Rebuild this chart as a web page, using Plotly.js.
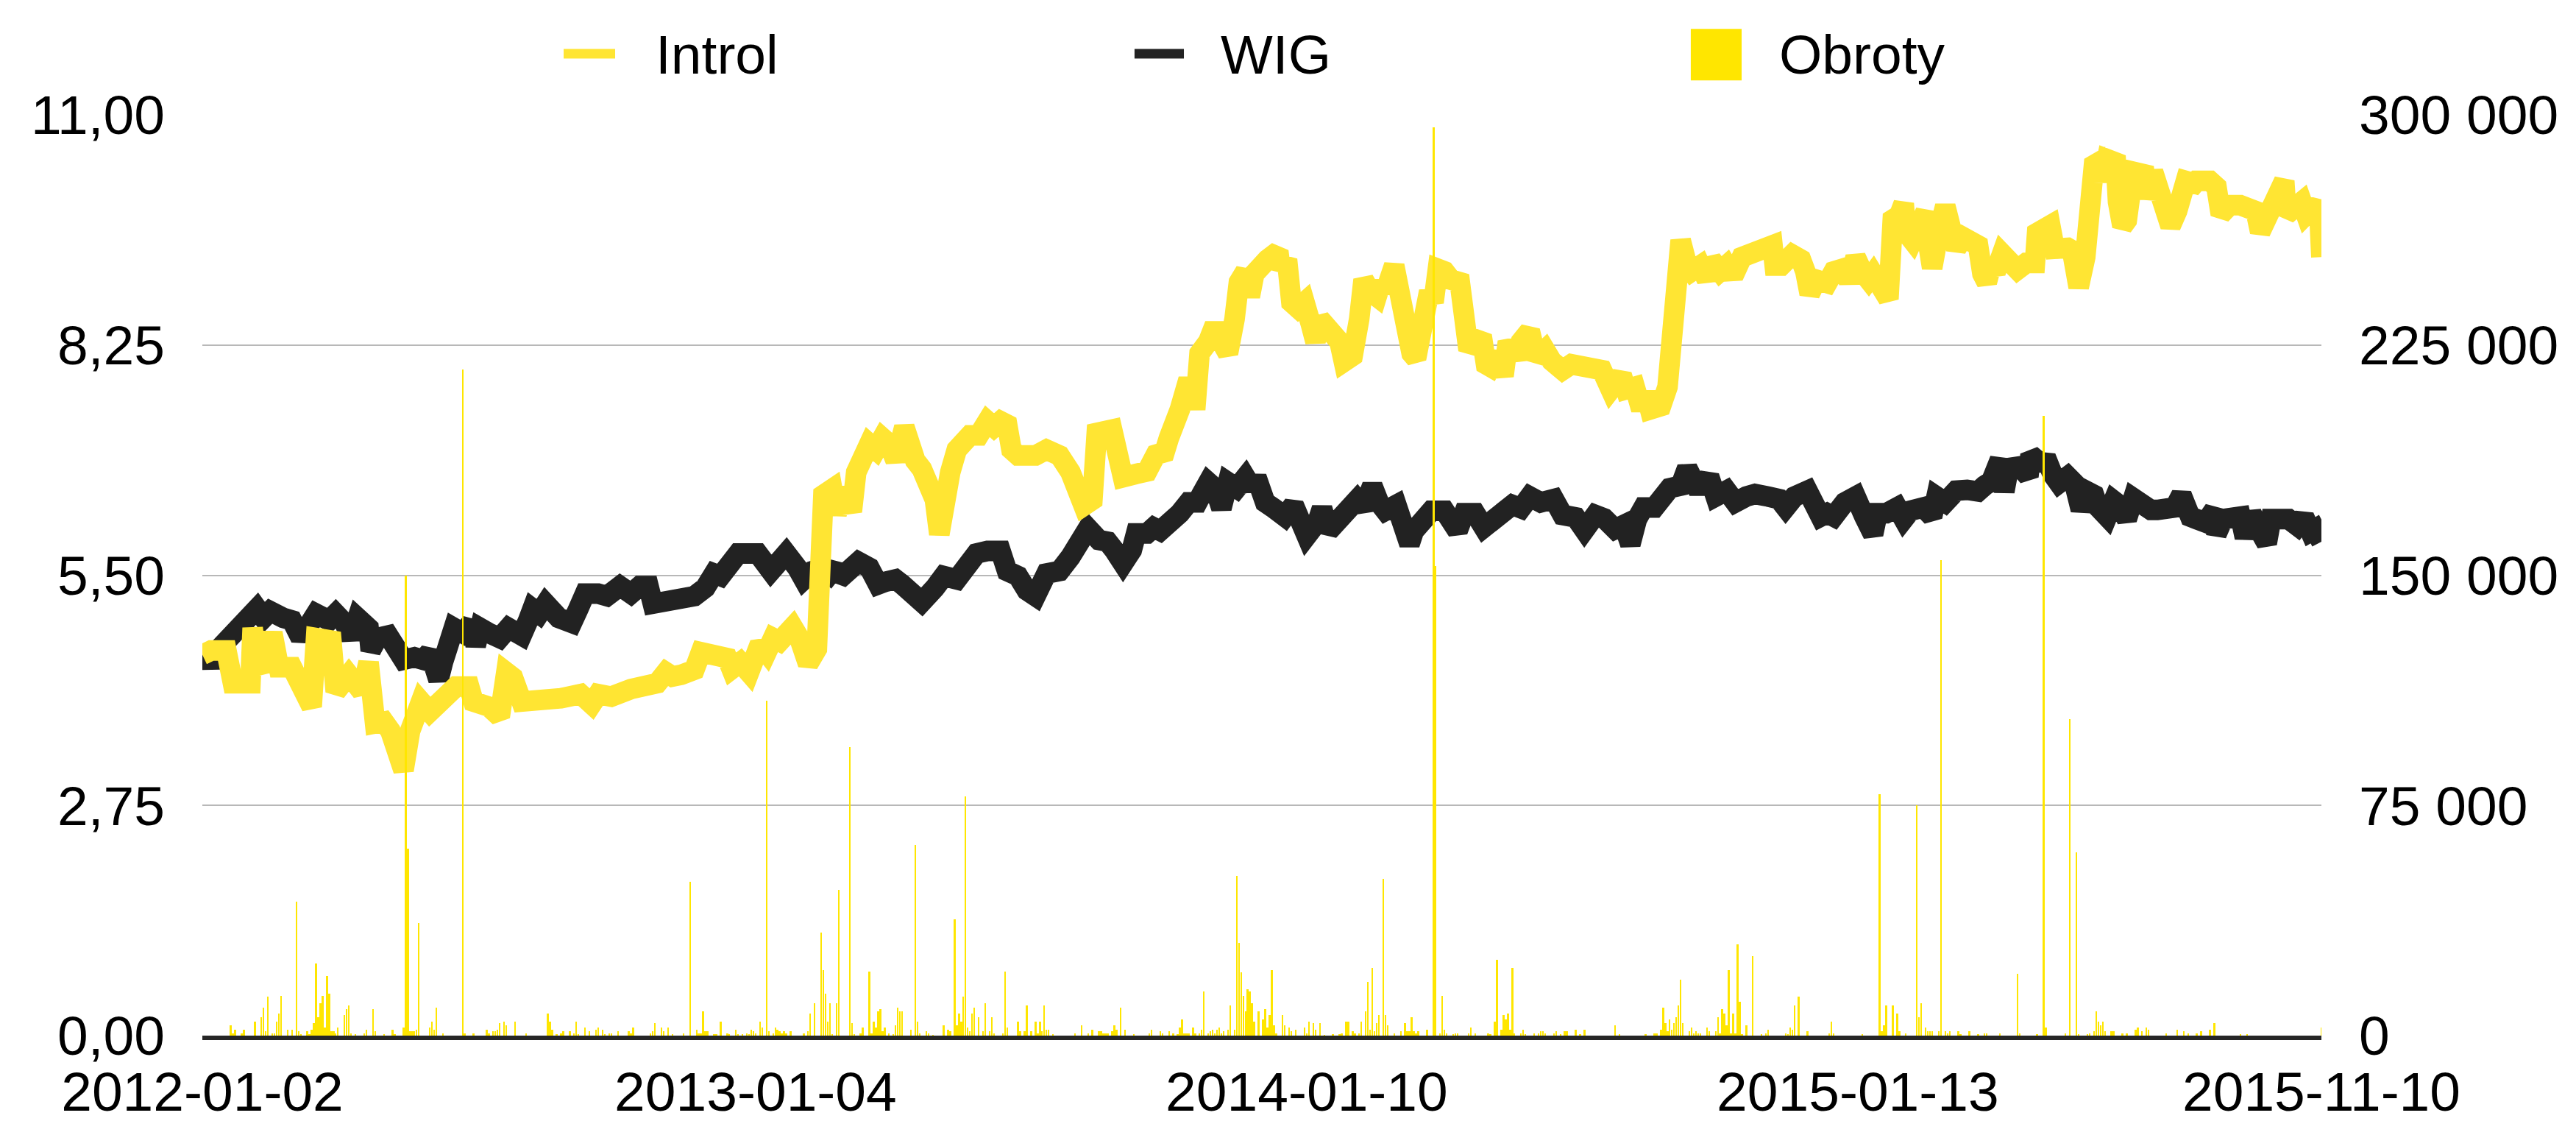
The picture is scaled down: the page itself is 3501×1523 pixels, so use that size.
<!DOCTYPE html>
<html>
<head>
<meta charset="utf-8">
<script src="https://cdn.plot.ly/plotly-3.0.1.min.js"></script>
<style>html,body{margin:0;padding:0;background:#fff;}#chart{width:3501px;height:1523px;}</style>
</head>
<body>
<div id="chart"></div>
<script>
// Session index (trading day number since 2012-01-02) and tick labels
const tickSessions = [0, 253, 505, 757, 969];
const tickLabels = ['2012-01-02', '2013-01-04', '2014-01-10', '2015-01-13', '2015-11-10'];

// Introl share price (left axis)
const introlSession = [0,4,11,14,22,23,25,28,32,35,41,46,50,52,59,61,67,73,76,79,83,86,92,95,100,104,109,116,122,124,131,136,139,142,146,157,164,173,178,181,187,196,202,208,212,215,219,225,228,233,240,242,246,250,255,258,261,264,267,270,273,277,281,284,288,290,293,294,297,299,302,305,308,311,314,317,321,323,326,329,332,335,337,339,342,345,348,351,355,359,362,365,368,370,373,377,381,386,392,397,400,403,407,409,416,418,421,427,432,436,440,442,445,447,450,453,454,456,460,463,466,469,472,474,477,479,481,484,487,492,493,496,498,501,504,507,509,511,516,520,522,526,529,531,534,537,539,541,545,547,550,553,555,558,561,563,565,568,571,575,577,579,582,585,587,589,592,595,597,601,603,607,610,614,617,622,626,631,635,640,644,649,651,655,658,660,662,667,670,672,674,676,679,681,685,688,690,694,697,700,704,709,713,718,719,722,727,731,733,735,738,741,743,746,751,753,756,759,762,764,767,771,773,776,778,779,782,784,788,789,791,794,797,800,802,805,809,812,814,816,818,820,823,826,830,834,838,839,844,845,847,851,853,855,856,858,861,862,864,865,867,869,871,875,876,878,880,883,888,889,892,894,897,900,903,906,907,911,912,918,921,923,927,932,936,939,941,945,949,952,953,956,960,962,965,968,969];
const introlPrice = [4.55,4.60,4.60,4.21,4.21,4.87,4.46,4.37,4.81,4.40,4.40,4.08,3.93,4.75,4.72,4.11,4.31,4.11,4.46,3.73,3.75,3.64,3.17,3.64,3.99,3.87,3.99,4.17,4.17,3.99,3.93,3.81,4.34,4.28,3.99,3.99,4.03,4.08,3.96,4.08,4.05,4.14,4.20,4.21,4.34,4.29,4.31,4.37,4.58,4.56,4.51,4.38,4.46,4.34,4.68,4.58,4.75,4.71,4.78,4.88,4.75,4.44,4.62,6.46,6.53,6.23,6.53,6.40,6.26,6.73,6.90,7.07,7.00,7.14,7.07,6.87,7.27,7.00,6.87,6.77,6.60,6.40,5.99,6.43,6.73,7.00,7.07,7.17,7.17,7.34,7.27,7.34,7.30,7.00,6.93,6.90,6.93,7.00,6.93,6.73,6.53,6.33,6.40,7.20,7.24,6.81,6.67,6.71,6.74,6.94,6.97,7.14,7.31,7.48,7.75,7.75,7.48,8.15,8.29,8.49,8.29,8.15,8.56,9.00,9.13,8.83,9.10,9.23,9.27,9.37,9.16,9.27,8.76,8.69,8.76,8.49,8.29,8.56,8.36,8.29,8.05,8.12,8.56,9.03,8.89,8.83,9.00,8.89,9.20,8.89,8.66,8.15,8.09,8.66,8.89,8.76,9.16,9.13,9.03,9.00,8.32,8.19,8.29,8.36,8.02,7.99,8.15,7.88,8.29,8.09,8.29,8.42,8.09,8.19,8.06,7.95,8.02,7.99,7.92,7.95,7.72,7.89,7.72,7.75,7.48,7.68,7.48,7.52,7.75,8.59,9.10,9.50,9.20,9.13,9.20,9.03,9.27,9.13,9.20,9.07,9.30,9.33,9.40,9.44,9.20,9.20,9.33,9.27,9.13,8.86,9.03,8.96,8.99,9.13,9.17,9.00,9.30,9.13,9.03,9.10,9.00,8.80,9.75,9.80,9.94,9.60,9.50,9.67,9.84,9.50,9.17,9.60,9.91,9.60,9.40,9.54,9.50,9.44,9.10,9.00,9.20,9.12,9.34,9.22,9.15,9.23,9.23,9.59,9.62,9.68,9.40,9.45,9.41,9.38,9.01,8.94,9.30,9.67,9.96,10.40,10.43,10.21,10.47,10.43,9.96,9.67,9.74,10.32,10.29,10.00,10.32,10.10,9.96,9.67,9.85,10.03,10.21,10.18,10.21,10.21,10.14,9.81,9.92,9.92,9.89,9.85,9.60,9.81,10.07,10.21,9.81,9.85,9.96,9.81,9.89,9.87,9.30];

// WIG index rescaled to the left axis
const wigSession = [0,4,8,13,16,18,22,25,28,31,37,41,45,49,52,58,61,65,68,71,76,77,80,85,89,92,97,101,104,108,110,112,115,119,123,125,127,131,136,140,146,149,151,154,157,163,169,172,175,181,185,191,196,200,204,206,211,217,222,225,230,234,237,240,245,249,254,260,264,267,272,275,279,284,287,290,291,297,300,305,309,312,317,320,324,329,335,339,345,350,354,359,365,368,373,377,381,386,392,397,401,405,410,414,417,421,425,427,432,435,438,442,447,451,455,457,460,463,466,469,473,477,480,482,486,490,495,499,502,505,510,512,515,519,523,528,531,535,538,541,546,549,552,554,558,562,568,571,574,577,582,586,591,595,599,603,607,612,618,622,628,632,637,641,646,650,653,656,659,664,668,671,676,679,683,686,689,692,697,701,706,710,716,721,724,728,734,737,740,743,746,751,756,760,764,766,770,775,778,781,787,791,793,797,802,807,812,815,818,822,824,826,831,835,836,840,844,846,849,853,856,859,862,865,867,871,874,876,880,883,887,891,894,898,902,905,909,912,916,920,921,924,928,932,934,937,941,944,946,950,954,958,961,964,966,969];
const wigScaled = [4.61,4.43,4.63,4.78,4.81,4.93,5.04,5.10,4.99,5.07,4.99,4.96,4.75,4.96,5.04,4.96,5.04,4.93,4.75,4.99,4.87,4.60,4.75,4.78,4.63,4.49,4.52,4.49,4.58,4.25,4.46,4.75,4.87,4.81,4.93,4.66,4.87,4.81,4.75,4.87,4.78,4.96,5.10,5.04,5.16,4.99,4.93,5.10,5.28,5.28,5.25,5.37,5.28,5.37,5.37,5.16,5.19,5.22,5.25,5.25,5.35,5.52,5.49,5.59,5.76,5.76,5.76,5.55,5.72,5.76,5.59,5.45,5.55,5.59,5.52,5.62,5.45,5.62,5.66,5.59,5.39,5.42,5.45,5.39,5.29,5.18,5.35,5.49,5.45,5.66,5.76,5.79,5.79,5.55,5.49,5.32,5.25,5.52,5.55,5.72,5.86,6.06,5.92,5.90,5.80,5.64,5.80,6.00,6.00,6.07,6.03,6.10,6.24,6.37,6.37,6.47,6.61,6.54,6.30,6.61,6.54,6.67,6.54,6.67,6.37,6.30,6.20,6.34,6.14,5.97,6.14,6.30,6.03,6.14,6.30,6.40,6.30,6.57,6.37,6.27,6.34,6.07,5.87,6.03,6.20,6.27,6.27,6.14,6.03,6.24,6.24,6.07,6.17,6.24,6.34,6.30,6.44,6.37,6.41,6.22,6.19,6.04,6.22,6.18,6.05,6.10,5.87,6.17,6.31,6.31,6.41,6.54,6.57,6.78,6.57,6.57,6.68,6.44,6.51,6.37,6.44,6.47,6.44,6.41,6.31,6.44,6.51,6.37,6.20,6.24,6.20,6.37,6.44,6.20,5.99,6.24,6.24,6.31,6.17,6.27,6.31,6.20,6.44,6.37,6.51,6.52,6.50,6.57,6.62,6.88,6.50,6.78,6.80,6.68,6.94,6.85,6.84,6.71,6.60,6.68,6.60,6.28,6.50,6.46,6.31,6.20,6.39,6.35,6.17,6.42,6.31,6.28,6.28,6.28,6.31,6.46,6.20,6.17,6.13,6.28,5.99,6.17,6.20,6.20,5.95,6.24,6.02,5.88,6.17,6.17,6.17,6.09,6.20,6.02,6.05,5.90];

// Turnover (right axis)
const volumeSession = [13,14,15,18,19,24,27,28,29,30,32,33,34,35,36,39,41,43,44,45,48,49,50,51,52,53,54,55,56,57,58,59,60,61,62,65,66,67,68,70,74,75,78,79,83,87,88,92,93,94,95,96,97,98,99,104,105,106,107,110,119,120,124,130,131,133,134,135,136,138,139,143,148,158,159,160,162,164,165,168,170,171,172,175,177,180,181,183,184,186,187,190,195,196,197,205,206,207,210,211,213,215,220,223,226,227,228,229,230,231,234,235,237,240,241,244,245,247,249,250,251,252,253,255,256,258,259,261,262,263,264,265,266,267,269,275,277,278,280,283,284,285,286,287,288,290,291,296,297,298,301,302,305,306,307,308,309,310,311,312,314,316,317,318,319,320,324,326,327,328,331,332,334,339,341,342,344,345,346,347,348,349,350,351,352,353,355,357,358,360,361,362,366,367,368,373,374,376,377,379,381,382,383,384,385,386,387,389,399,402,405,407,410,411,412,413,414,416,417,418,420,422,426,433,434,438,439,442,444,446,447,448,449,450,451,453,454,456,457,458,460,461,462,463,464,465,466,467,469,470,472,473,474,475,476,477,478,479,480,481,483,485,486,487,488,489,490,491,494,495,497,498,500,504,505,506,508,509,511,513,517,520,521,523,524,526,527,529,530,532,533,534,535,536,537,538,540,541,542,545,548,550,551,552,553,554,555,556,560,563,564,566,567,568,569,572,573,574,579,580,582,588,589,591,592,594,595,596,597,598,599,600,603,604,605,609,611,612,613,614,618,619,621,623,624,628,630,632,646,648,660,664,665,667,668,669,670,671,672,673,674,675,676,677,680,681,682,683,684,685,688,689,692,693,694,695,696,697,698,699,700,701,702,703,704,706,709,713,715,716,724,725,726,727,728,730,734,744,745,746,759,767,768,769,770,773,775,776,779,784,785,786,788,789,790,791,794,795,797,798,799,803,804,808,812,815,816,822,830,831,839,842,843,852,854,857,858,862,863,865,866,867,868,869,870,873,874,878,880,884,885,887,889,890,898,903,906,908,912,914,918,920,932,935,969];
const volumeValue = [3400,700,2000,700,2000,4600,6000,9200,1400,12600,700,700,4600,7200,13000,2000,2000,43700,1400,400,1400,400,2000,4000,23400,6000,10600,13000,2600,19500,13700,1400,1400,700,2600,6600,8600,9800,700,400,700,2000,8600,1400,400,2000,400,2600,150000,61000,1400,1400,1400,2000,36700,2600,4600,2000,9200,700,217000,700,700,2000,700,1400,1400,2000,4000,4600,3400,4600,700,7200,4600,2000,400,700,1400,1400,700,4600,400,2600,1400,2000,2600,2000,400,700,700,1400,1400,700,2600,700,1400,4000,2600,1400,2600,400,700,50200,2000,700,700,7800,1400,1400,400,400,4600,700,400,2000,400,400,700,400,2000,1400,700,4600,2600,109000,1400,700,2600,2000,1400,700,1400,700,1400,700,1400,7200,10600,33600,21400,13700,4600,10600,400,10600,47500,94000,4000,400,700,2600,20800,700,4600,2600,7800,8700,1400,2600,700,400,3400,9200,7800,7800,2000,62000,4600,700,1400,700,200,3400,2000,1400,38000,3400,7200,4600,12600,78000,2600,1400,7200,9200,6000,1400,10600,1400,6000,700,700,20800,2600,4600,1400,1400,9800,1400,4600,700,4600,1400,9800,2000,2000,400,700,3400,700,2000,1400,1400,700,700,700,1400,3400,2000,9200,2000,400,700,2000,1400,700,1400,700,400,2600,5300,700,700,700,2600,700,700,2000,14400,700,1400,2000,700,2000,2600,700,1400,2000,9800,2000,52000,30200,20600,13000,7800,15000,14400,10600,4600,7800,5300,8600,2600,6600,21400,3400,700,6600,3400,2600,1400,2000,2600,700,4600,4000,2000,4000,200,400,400,700,4600,4600,1400,700,700,4600,7800,17600,2000,22100,1400,4000,6600,51000,6600,3400,700,1400,4000,1400,1400,6000,1400,700,1400,2000,296000,153000,700,13000,2000,700,400,700,700,700,2600,700,700,400,4600,24600,2000,6600,5300,7200,2000,22100,700,700,2000,400,700,700,1400,1400,700,700,1400,400,1400,1400,2000,400,2000,3400,400,400,700,700,2000,9200,4000,1400,5300,2000,4000,6000,9800,18300,4000,1400,2600,700,1400,700,700,2600,1400,1400,6000,700,8600,7200,3400,21400,700,7200,700,29800,11000,400,3400,26000,400,700,2000,700,400,2600,2000,9800,12600,1400,700,4600,700,400,78750,1400,3400,9800,9800,7200,1400,700,75000,6000,10600,2600,1400,1400,1400,1400,155000,1400,700,1400,1400,400,1400,400,700,700,700,20200,700,400,202000,2600,700,103000,59800,400,400,700,1400,7800,4600,3400,4600,1400,1400,1400,700,700,2000,2600,1400,2600,2000,700,2000,1400,700,700,1400,2000,4000,400,400,2600];

const FONT = 'Liberation Sans, Arial, Helvetica, sans-serif';

const traces = [
  {
    name: 'WIG', type: 'scatter', mode: 'lines',
    x: wigSession, y: wigScaled, yaxis: 'y',
    line: {color: '#222222', width: 28},
    showlegend: false, hoverinfo: 'skip'
  },
  {
    name: 'Introl', type: 'scatter', mode: 'lines',
    x: introlSession, y: introlPrice, yaxis: 'y',
    line: {color: '#FFE533', width: 28},
    showlegend: false, hoverinfo: 'skip'
  },
  {
    name: 'Obroty', type: 'bar',
    x: volumeSession, y: volumeValue, yaxis: 'y2',
    width: 0.8,
    marker: {color: '#FFE600', line: {width: 0}},
    showlegend: false, hoverinfo: 'skip'
  }
];

const layout = {
  width: 3501, height: 1523,
  margin: {l: 275, r: 346, t: 156, b: 116, pad: 0},
  paper_bgcolor: '#ffffff', plot_bgcolor: '#ffffff',
  separators: ', ',
  font: {family: FONT, size: 75, color: '#000000'},
  showlegend: false,
  bargap: 0,
  xaxis: {
    type: 'linear', range: [0, 969],
    tickmode: 'array', tickvals: tickSessions, ticktext: tickLabels,
    showgrid: false, zeroline: false,
    showline: true, linecolor: '#262626', linewidth: 6,
    ticks: '', ticklabelstandoff: 6,
    tickfont: {family: FONT, size: 75, color: '#000'}
  },
  yaxis: {
    range: [0, 11], tickmode: 'linear', tick0: 0, dtick: 2.75,
    tickformat: '.2f',
    showgrid: true, gridcolor: '#b8b8b8', gridwidth: 2,
    zeroline: false, showline: false, ticks: '', ticklabelstandoff: 50,
    tickfont: {family: FONT, size: 75, color: '#000'}
  },
  yaxis2: {
    range: [0, 300000], overlaying: 'y', side: 'right',
    tickmode: 'linear', tick0: 0, dtick: 75000, tickformat: ',.0f',
    showgrid: false, zeroline: false, showline: false, ticks: '', ticklabelstandoff: 50,
    tickfont: {family: FONT, size: 75, color: '#000'}
  },
  shapes: [
    {type: 'line', xref: 'paper', yref: 'paper', x0: 0.1705, x1: 0.1948, y0: 1.0663, y1: 1.0663,
     line: {color: '#FFE533', width: 13}},
    {type: 'line', xref: 'paper', yref: 'paper', x0: 0.4399, x1: 0.4632, y0: 1.0663, y1: 1.0663,
     line: {color: '#222222', width: 13}},
    {type: 'rect', xref: 'paper', yref: 'paper', x0: 0.7024, x1: 0.7264, y0: 1.0373, y1: 1.0933,
     fillcolor: '#FFE600', line: {width: 0}}
  ],
  annotations: [
    {text: 'Introl', xref: 'paper', yref: 'paper', x: 0.2132, y: 1.0655, xanchor: 'left', yanchor: 'middle',
     showarrow: false, font: {family: FONT, size: 75, color: '#000'}},
    {text: 'WIG', xref: 'paper', yref: 'paper', x: 0.4799, y: 1.0655, xanchor: 'left', yanchor: 'middle',
     showarrow: false, font: {family: FONT, size: 75, color: '#000'}},
    {text: 'Obroty', xref: 'paper', yref: 'paper', x: 0.7434, y: 1.0655, xanchor: 'left', yanchor: 'middle',
     showarrow: false, font: {family: FONT, size: 75, color: '#000'}}
  ]
};

Plotly.newPlot('chart', traces, layout, {staticPlot: true, displayModeBar: false});
</script>
</body>
</html>
